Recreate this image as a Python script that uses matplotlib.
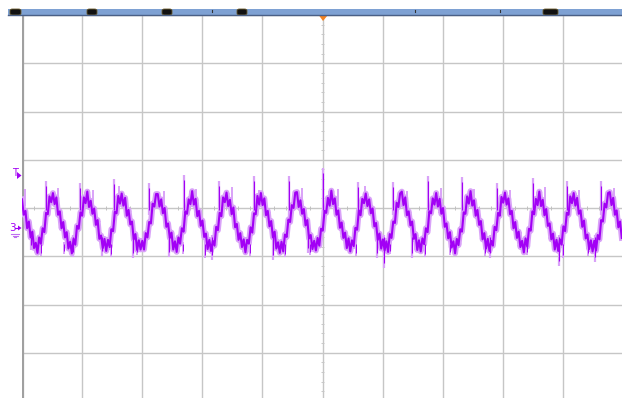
import numpy as np
import matplotlib
matplotlib.use("Agg")
import matplotlib.pyplot as plt
from matplotlib.patches import Rectangle, FancyBboxPatch, Polygon

# ---- data (screen divisions; 10 horizontal x 8 vertical, 0 = centre line) ----
trace = [
    0.18, -0.14, -0.06, -0.42, -0.28, -0.61, -0.49, -0.83, -0.72, -0.93, -0.61, -0.74, -0.42, -0.50, -0.10, -0.13, 0.24, 0.12,
    0.31, 0.08, 0.22, -0.14, -0.07, -0.42, -0.29, -0.61, -0.50, -0.84, -0.70, -0.94, -0.64, -0.76, -0.37, -0.43, -0.09, -0.16, 0.22, 0.10,
    0.34, 0.02, 0.15, -0.12, -0.01, -0.35, -0.25, -0.64, -0.57, -0.83, -0.64, -0.89, -0.66, -0.81, -0.44, -0.48, -0.08, -0.11, 0.25, 0.09,
    0.30, 0.05, 0.21, -0.16, -0.04, -0.34, -0.28, -0.65, -0.54, -0.87, -0.67, -0.86, -0.68, -0.86, -0.52, -0.61, -0.29, -0.32, 0.09, 0.03, 0.29,
    0.29, 0.03, 0.18, -0.11, 0.00, -0.39, -0.32, -0.62, -0.51, -0.86, -0.69, -0.91, -0.61, -0.74, -0.42, -0.49, -0.07, -0.12, 0.18, 0.08,
    0.35, 0.07, 0.19, -0.17, -0.06, -0.37, -0.26, -0.60, -0.53, -0.85, -0.66, -0.89, -0.68, -0.78, -0.39, -0.46, -0.10, -0.17, 0.22, 0.12,
    0.32, 0.04, 0.17, -0.13, 0.01, -0.40, -0.33, -0.66, -0.52, -0.81, -0.65, -0.92, -0.66, -0.74, -0.40, -0.51, -0.11, -0.13, 0.25, 0.07,
    0.31, 0.06, 0.20, -0.15, -0.06, -0.38, -0.27, -0.61, -0.49, -0.84, -0.71, -0.93, -0.70, -0.90, -0.55, -0.60, -0.24, -0.29, 0.06, 0.00, 0.32,
    0.33, 0.02, 0.16, -0.12, -0.02, -0.36, -0.25, -0.63, -0.56, -0.85, -0.68, -0.88, -0.62, -0.78, -0.43, -0.47, -0.06, -0.10, 0.21, 0.05,
    0.36, 0.08, 0.20, -0.14, -0.05, -0.41, -0.30, -0.62, -0.51, -0.83, -0.63, -0.90, -0.67, -0.79, -0.41, -0.45, -0.05, -0.15, 0.19, 0.10,
    0.30, 0.04, 0.18, -0.11, -0.01, -0.38, -0.31, -0.66, -0.53, -0.84, -0.65, -0.88, -0.69, -0.91, -0.54, -0.62, -0.28, -0.31, 0.11, 0.02, 0.30,
    0.34, 0.06, 0.22, -0.15, -0.07, -0.36, -0.28, -0.64, -0.54, -0.87, -0.67, -0.90, -0.63, -0.75, -0.42, -0.50, -0.07, -0.11, 0.20, 0.07,
    0.31, 0.03, 0.19, -0.12, 0.00, -0.39, -0.32, -0.63, -0.50, -0.82, -0.69, -0.94, -0.64, -0.77, -0.44, -0.49, -0.09, -0.12, 0.24, 0.09,
    0.35, 0.05, 0.16, -0.16, -0.04, -0.35, -0.27, -0.65, -0.52, -0.84, -0.64, -0.89, -0.68, -0.78, -0.39, -0.46, -0.10, -0.16, 0.23, 0.11,
    0.32, 0.07, 0.20, -0.13, -0.06, -0.42, -0.29, -0.62, -0.49, -0.81, -0.68, -0.92, -0.63, -0.80, -0.43, -0.47, -0.07, -0.13, 0.19, 0.06,
    0.34, 0.04, 0.17, -0.15, -0.02, -0.37, -0.32, -0.65, -0.53, -0.86, -0.66, -0.89, -0.65, -0.76, -0.38, -0.48, -0.10, -0.14, 0.24, 0.10,
    0.31, 0.05, 0.21, -0.12, -0.05, -0.39, -0.26, -0.63, -0.55, -0.85, -0.67, -0.90, -0.68, -0.88, -0.56, -0.65, -0.25, -0.28, 0.09, 0.01, 0.31,
    0.33, 0.06, 0.21, -0.14, -0.05, -0.40, -0.28, -0.62,
]

# tall glitches (tips)
spike_up_x = [0.40, 0.97, 1.53, 2.11, 2.70, 3.28, 3.86, 4.44, 5.01, 5.59, 6.17, 6.76, 7.32, 7.90, 8.50, 9.07, 9.63]
spike_up_top = [0.56, 0.52, 0.60, 0.52, 0.68, 0.56, 0.66, 0.66, 0.83, 0.54, 0.54, 0.66, 0.64, 0.52, 0.62, 0.56, 0.56]
spike_dn_x = [0.15, 0.85, 1.33, 1.85, 2.45, 3.16, 4.18, 4.76, 5.91, 6.02, 6.49, 7.79, 8.94, 9.53]
spike_dn_bot = [-0.87, -1.01, -0.99, -1.04, -1.01, -1.08, -1.08, -0.93, -1.04, -1.24, -1.04, -1.04, -1.20, -1.12]
# smaller glitches around hump tops and troughs
minor_up_x = [0.05, 0.60, 1.18, 1.62, 2.36, 2.90, 3.50, 3.95, 4.66, 5.25, 5.70, 6.40, 6.98, 7.52, 8.12, 8.70, 9.27, 9.85]
minor_up_top = [0.40, 0.42, 0.38, 0.45, 0.36, 0.40, 0.44, 0.37, 0.41, 0.39, 0.46, 0.35, 0.42, 0.40, 0.37, 0.43, 0.38, 0.41]
minor_dn_x = [0.32, 0.70, 1.48, 1.92, 2.68, 3.05, 3.80, 4.38, 4.80, 5.55, 6.12, 6.70, 7.12, 7.70, 8.40, 9.00, 9.42]
minor_dn_bot = [-1.00, -0.96, -1.02, -0.98, -0.95, -1.03, -0.99, -1.01, -0.97, -1.00, -0.96, -1.02, -0.98, -1.00, -0.97, -1.03, -0.99]

W, H = 622, 398
fig = plt.figure(figsize=(W / 100, H / 100), dpi=100)
fig.patch.set_facecolor("white")

# plot area: x 22..623 px, y 15..401 px
ax = fig.add_axes([22 / W, 1 - 401 / H, 601 / W, 386 / H])
ax.set_xlim(0, 10)
ax.set_ylim(-4, 4)
ax.axis("off")

grid_c = "#c6c6c6"
for gx in range(1, 11):
    ax.axvline(gx, color=grid_c, lw=1.0, zorder=1)
for gy in range(-4, 5):
    ax.axhline(gy, color=grid_c, lw=1.0, zorder=1)
# centre-line minor ticks
mt = np.arange(-4, 4.01, 0.2)
ax.hlines(mt, 4.975, 5.025, color="#c8c8c8", lw=0.7, zorder=1)
mx = np.arange(0, 10.01, 0.2)
ax.vlines(mx, -0.04, 0.04, color="#c0c0c0", lw=0.7, zorder=1)
# left border
ax.axvline(0.01, color="#a0a0a0", lw=1.6, zorder=2)

# trace
x = np.linspace(0, 9.98, len(trace))
purple = "#a200f5"
light = "#d9a2f8"
ax.plot(x, trace, color=light, lw=4.2, zorder=3)
ax.vlines(spike_up_x, -0.15, spike_up_top, color=light, lw=1.6, zorder=3)
ax.vlines(spike_dn_x, spike_dn_bot, -0.55, color=light, lw=1.6, zorder=3)
ax.vlines(minor_up_x, 0.05, minor_up_top, color=light, lw=1.4, zorder=3)
ax.vlines(minor_dn_x, minor_dn_bot, -0.7, color=light, lw=1.4, zorder=3)
ax.plot(x, trace, color=purple, lw=1.5, zorder=4)
ax.vlines(spike_up_x, -0.05, np.array(spike_up_top) - 0.1, color=purple, lw=0.8, zorder=4)
ax.vlines(spike_dn_x, np.array(spike_dn_bot) + 0.1, -0.6, color=purple, lw=0.8, zorder=4)
ax.vlines(minor_dn_x, np.array(minor_dn_bot) + 0.06, -0.75, color=purple, lw=0.7, zorder=4)

# ---- top bar ----
def fx(px):
    return px / W

def fy(py):
    return 1 - py / H

fig.add_artist(Rectangle((fx(8), fy(15)), fx(622) - fx(8), fy(9) - fy(15),
                         transform=fig.transFigure, facecolor="#7ea1d3", edgecolor="none"))
fig.add_artist(plt.Line2D([fx(8), 1], [fy(15.3), fy(15.3)], transform=fig.transFigure,
                          color="#4a5f86", lw=1.0))
for x0, x1 in [(10, 21), (87, 97), (162, 172), (237, 247), (543, 558)]:
    fig.add_artist(FancyBboxPatch((fx(x0), fy(15)), fx(x1) - fx(x0), fy(9) - fy(15),
                                  boxstyle="round,pad=0,rounding_size=0.004",
                                  transform=fig.transFigure, facecolor="#111111",
                                  edgecolor="#6b5a2a", lw=0.6))
for tx in [212, 415, 500]:
    fig.add_artist(plt.Line2D([fx(tx), fx(tx)], [fy(10), fy(12)], transform=fig.transFigure,
                              color="#333333", lw=0.8))
# trigger position marker
fig.add_artist(Polygon([[fx(319), fy(15.5)], [fx(327.5), fy(15.5)], [fx(323), fy(21)]],
                       closed=True, transform=fig.transFigure, facecolor="#f5821f", edgecolor="none"))

# ---- left channel markers ----
fig.text(fx(12), fy(173), "T", color=purple, fontsize=7, ha="left", va="center",
         family="DejaVu Sans")
fig.add_artist(Polygon([[fx(17), fy(172)], [fx(17), fy(179)], [fx(21.5), fy(175.5)]],
                       closed=True, transform=fig.transFigure, facecolor=purple, edgecolor="none"))
fig.text(fx(9), fy(228), "3", color=purple, fontsize=7.5, ha="left", va="center",
         family="DejaVu Sans")
fig.add_artist(plt.Line2D([fx(15), fx(19)], [fy(228), fy(228)], transform=fig.transFigure,
                          color=purple, lw=0.8))
fig.add_artist(Polygon([[fx(18), fy(225.5)], [fx(18), fy(230.5)], [fx(21.5), fy(228)]],
                       closed=True, transform=fig.transFigure, facecolor=purple, edgecolor="none"))
for (a, b, yy) in [(11, 19, 233.5), (12.5, 17.5, 235.5), (14, 16, 237.5)]:
    fig.add_artist(plt.Line2D([fx(a), fx(b)], [fy(yy), fy(yy)], transform=fig.transFigure,
                              color="#c070f0", lw=0.8))

fig.savefig("out.png", dpi=100, facecolor="white")
